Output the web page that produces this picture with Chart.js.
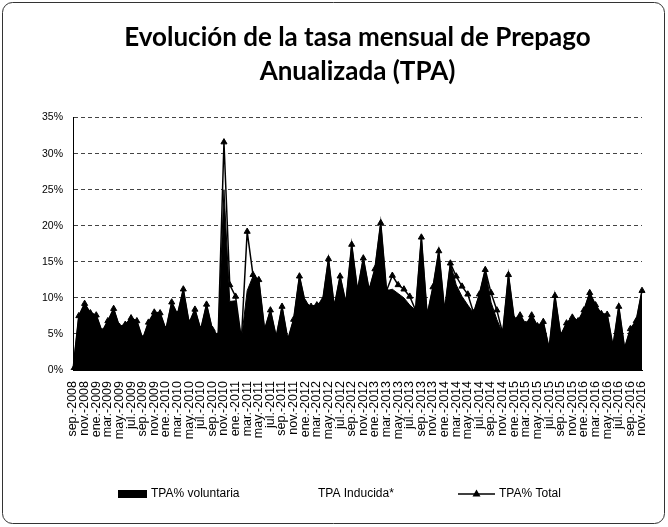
<!DOCTYPE html>
<html>
  <head>
    <meta charset="utf-8">
    <style>
      body { margin: 0; background: #fff; }
      .container { width: 668px; height: 527px; }
    </style>
  </head>
  <body>
    <div class="container">
      <canvas id="tpa" width="668" height="527"></canvas>
    </div>

    <script src="https://cdn.jsdelivr.net/npm/chart.js"></script>
    <script>
      // monthly series, sep.-2008 .. nov.-2016
      const monthNames = ['ene.', 'feb.', 'mar.', 'abr.', 'may.', 'jun.', 'jul.', 'ago.', 'sep.', 'oct.', 'nov.', 'dic.'];
      const startMonth = 8;
      const startYear = 2008;

      const tpaTotal = [
        0, 7.5, 9.2, 7.9, 7.6, 5.3, 6.8, 8.5, 6.0, 6.3,
        7.2, 6.8, 4.3, 6.6, 8.0, 7.9, 5.6, 9.4, 7.7, 11.2,
        6.5, 8.4, 5.6, 9.1, 5.6, 4.7, 31.6, 11.8, 10.2, 4.2,
        19.2, 13.2, 12.5, 5.6, 8.3, 4.6, 8.8, 4.2, 7.0, 13.0,
        9.3, 8.8, 9.0, 9.6, 15.4, 8.8, 13.0, 9.3, 17.4, 11.0,
        15.5, 11.1, 14.0, 20.4, 11.0, 13.1, 11.8, 11.2, 10.2, 8.3,
        18.4, 7.6, 11.5, 16.5, 8.2, 14.8, 13.0, 11.6, 10.5, 7.9,
        10.5, 13.9, 10.7, 8.3, 5.1, 13.2, 7.0, 7.6, 6.3, 7.6,
        6.1, 6.7, 3.0, 10.3, 4.8, 6.5, 7.3, 6.8, 8.3, 10.7,
        9.0, 7.8, 7.7, 3.3, 8.8, 3.0, 5.7, 6.8, 11.0
      ];

      const tpaVoluntaria = [
        0, 7.5, 9.2, 7.9, 7.6, 5.3, 6.8, 8.5, 6.0, 6.3,
        7.2, 6.8, 4.3, 6.6, 8.0, 7.9, 5.6, 9.4, 7.7, 11.2,
        6.5, 8.4, 5.6, 9.1, 5.6, 4.7, 25.0, 9.5, 9.6, 4.2,
        11.0, 13.0, 12.5, 5.6, 8.3, 4.6, 8.8, 4.2, 7.0, 13.0,
        9.3, 8.8, 9.0, 9.6, 15.4, 8.8, 13.0, 9.3, 17.4, 11.0,
        15.5, 11.1, 14.0, 20.4, 11.0, 11.2, 10.6, 10.0, 9.0, 8.3,
        18.4, 7.6, 11.5, 16.5, 8.2, 14.8, 11.8, 10.2, 9.0, 7.9,
        10.5, 13.9, 9.4, 7.0, 5.1, 13.2, 7.0, 7.6, 6.3, 7.6,
        6.1, 6.7, 3.0, 10.3, 4.8, 6.5, 7.3, 6.8, 8.3, 10.7,
        9.0, 7.8, 7.7, 3.3, 8.8, 3.0, 5.7, 6.8, 11.0
      ];

      const tpaInducida = [
        0, 0, 0, 0, 0, 0, 0, 0, 0, 0,
        0, 0, 0, 0, 0, 0, 0, 0, 0, 0,
        0, 0, 0, 0, 0, 0, 6.6, 2.3, 0.6, 0,
        8.2, 0.2, 0, 0, 0, 0, 0, 0, 0, 0,
        0, 0, 0, 0, 0, 0, 0, 0, 0, 0,
        0, 0, 0, 0, 0, 1.9, 1.2, 1.2, 1.2, 0,
        0, 0, 0, 0, 0, 0, 1.2, 1.4, 1.5, 0,
        0, 0, 1.3, 1.3, 0, 0, 0, 0, 0, 0,
        0, 0, 0, 0, 0, 0, 0, 0, 0, 0,
        0, 0, 0, 0, 0, 0, 0, 0, 0
      ];

      const yTicks = [0, 5, 10, 15, 20, 25, 30, 35];

      const categories = tpaTotal.map((v, i) => {
        const m = (startMonth + i) % 12;
        const y = startYear + Math.floor((startMonth + i) / 12);
        return monthNames[m] + '-' + y;
      });

      const frame = {
        id: 'frame',
        beforeDraw(chart) {
          const ctx = chart.ctx;
          ctx.save();
          ctx.fillStyle = '#fff';
          ctx.fillRect(0, 0, chart.width, chart.height);
          ctx.strokeStyle = '#333';
          ctx.lineWidth = 1;
          ctx.beginPath();
          ctx.roundRect(2.5, 2.5, 662, 521, 10);
          ctx.stroke();
          ctx.restore();
        }
      };

      // legend drawn like the Excel one: bar, blank, line with marker
      const legendRow = {
        id: 'legendRow',
        afterDraw(chart) {
          const ctx = chart.ctx;
          const sets = chart.data.datasets;
          const y = 494;
          ctx.save();
          ctx.font = '12px "Liberation Sans"';
          ctx.fillStyle = '#000';
          ctx.textBaseline = 'middle';

          ctx.fillRect(118, y - 4, 29, 8);
          ctx.fillText(sets[0].label, 151, y);

          ctx.fillText(sets[1].label, 318, y);

          ctx.strokeStyle = '#000';
          ctx.lineWidth = 1.5;
          ctx.beginPath();
          ctx.moveTo(458, y);
          ctx.lineTo(495, y);
          ctx.stroke();
          ctx.beginPath();
          ctx.moveTo(476.5, y - 4.5);
          ctx.lineTo(480.5, y + 2.5);
          ctx.lineTo(472.5, y + 2.5);
          ctx.closePath();
          ctx.fill();
          ctx.fillText(sets[2].label, 499, y);
          ctx.restore();
        }
      };

      const config = {
        type: 'line',
        data: {
          labels: categories,
          datasets: [
            {
              label: 'TPA% voluntaria',
              data: tpaVoluntaria,
              stack: 'areas',
              order: 1,
              backgroundColor: '#000',
              borderColor: '#000',
              borderWidth: 1,
              fill: 'origin',
              pointRadius: 0,
              tension: 0,
            },
            {
              label: 'TPA Inducida*',
              data: tpaInducida,
              stack: 'areas',
              order: 2,
              backgroundColor: '#fff',
              borderColor: 'rgba(0,0,0,0)',
              borderWidth: 0,
              fill: '-1',
              pointRadius: 0,
              tension: 0,
            },
            {
              label: 'TPA% Total',
              data: tpaTotal,
              stack: 'total',
              order: 0,
              borderColor: '#000',
              backgroundColor: '#000',
              borderWidth: 1.5,
              fill: false,
              pointStyle: 'triangle',
              pointRadius: 3.5,
              pointBorderWidth: 1,
              tension: 0,
            },
          ],
        },
        options: {
          responsive: false,
          animation: false,
          layout: { padding: { top: 0, left: 0, right: 26, bottom: 57 } },
          plugins: {
            title: {
              display: true,
              fullSize: false,
              text: ['Evolución de la tasa mensual de Prepago', 'Anualizada (TPA)'],
              color: '#000',
              font: { family: 'Lato', size: 26, weight: 'bold', lineHeight: 1.3 },
              padding: { top: 21, bottom: 29 },
            },
            legend: { display: false },
            tooltip: { enabled: false },
          },
          scales: {
            x: {
              grid: { display: false },
              border: { display: true, color: '#000', width: 1 },
              ticks: {
                autoSkip: false,
                minRotation: 90,
                maxRotation: 90,
                color: '#000',
                font: { family: 'Liberation Sans', size: 12.5 },
                padding: 3,
                callback: function (value, index) {
                  return index % 2 === 0 ? this.getLabelForValue(value) : '';
                },
              },
              afterFit: (scale) => { scale.height = 100; },
            },
            y: {
              stacked: true,
              min: yTicks[0],
              max: yTicks[yTicks.length - 1],
              grid: { color: '#444', lineWidth: 1, drawTicks: false },
              border: { display: true, color: '#000', width: 1, dash: [4, 3] },
              afterBuildTicks: (scale) => { scale.ticks = yTicks.map((v) => ({ value: v })); },
              ticks: {
                color: '#000',
                font: { family: 'Liberation Sans', size: 10.5 },
                padding: 10,
                callback: (v) => v + '%',
              },
              afterFit: (scale) => { scale.width = 73; },
            },
          },
        },
        plugins: [frame, legendRow],
      };

      const chart = new Chart(document.getElementById('tpa'), config);
    </script>
  </body>
</html>
